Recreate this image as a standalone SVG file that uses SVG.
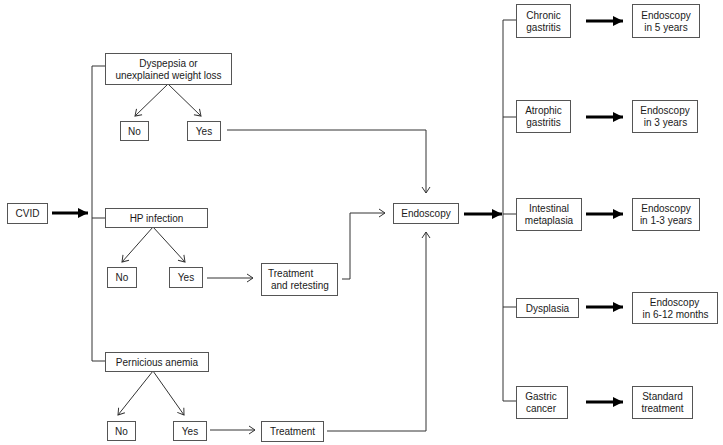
<svg xmlns="http://www.w3.org/2000/svg" width="723" height="445" viewBox="0 0 723 445">
<style>
.box{fill:#fff;stroke:#555;stroke-width:1}
text{font-family:"Liberation Sans",Arial,sans-serif;font-size:10px;fill:#1a1a1a;text-anchor:middle}
.ln{fill:none;stroke:#333;stroke-width:1}
.thin{fill:none;stroke:#333;stroke-width:1;marker-end:url(#open)}
.thick{fill:none;stroke:#000;stroke-width:3;marker-end:url(#solid)}
</style>
<defs>
<marker id="open" markerUnits="userSpaceOnUse" markerWidth="10" markerHeight="10" refX="7" refY="5" orient="auto">
<path d="M1,1 L7,5 L1,9" fill="none" stroke="#333" stroke-width="1"/>
</marker>
<marker id="solid" markerUnits="userSpaceOnUse" markerWidth="12" markerHeight="12" refX="10" refY="5" orient="auto">
<path d="M0,0 L10,5 L0,10 Z" fill="#000"/>
</marker>
</defs>
<rect width="723" height="445" fill="#fff"/>
<g id="connectors">
<path class="thick" d="M52,213 H88"/>
<path class="ln" d="M92,66 V361 M92,66 H105 M92,218 H105 M92,361 H105"/>
<path class="thin" d="M168,84 L135,116"/>
<path class="thin" d="M168,84 L201,116"/>
<path class="thin" d="M227,130 H426 V193"/>
<path class="thin" d="M153,227 L122,262"/>
<path class="thin" d="M153,227 L185,262"/>
<path class="thin" d="M207,278 H253"/>
<path class="thin" d="M342,279 H350 V213 H385"/>
<path class="thin" d="M153,371 L118,415"/>
<path class="thin" d="M153,371 L184,415"/>
<path class="thin" d="M210,430 H255"/>
<path class="thin" d="M327,431 H426 V232"/>
<path class="thick" d="M464,214 H502"/>
<path class="ln" d="M503,20 V401 M503,20 H516 M503,117 H516 M503,214 H516 M503,307 H516 M503,401 H516"/>
<path class="thick" d="M586,21 H623"/>
<path class="thick" d="M586,117 H623"/>
<path class="thick" d="M586,214 H623"/>
<path class="thick" d="M586,307 H623"/>
<path class="thick" d="M586,402 H623"/>
</g>
<g id="cvid"><rect class="box" x="7.5" y="203.5" width="40" height="20"/><text x="27.5" y="217">CVID</text></g>
<g id="dyspepsia"><rect class="box" x="105.5" y="53.5" width="126" height="31"/><text x="168.5" y="66.5">Dyspepsia or</text><text x="168.5" y="78.5">unexplained weight loss</text></g>
<g id="dys-no"><rect class="box" x="120.5" y="121.5" width="28" height="19"/><text x="134.5" y="134.5">No</text></g>
<g id="dys-yes"><rect class="box" x="187.5" y="121.5" width="33" height="19"/><text x="204" y="134.5">Yes</text></g>
<g id="hp"><rect class="box" x="105.5" y="208.5" width="102" height="19"/><text x="156.5" y="221.5">HP infection</text></g>
<g id="hp-no"><rect class="box" x="107.5" y="267.5" width="29" height="20"/><text x="122" y="281">No</text></g>
<g id="hp-yes"><rect class="box" x="169.5" y="267.5" width="33" height="20"/><text x="186" y="281">Yes</text></g>
<g id="treat-retest"><rect class="box" x="261.5" y="263.5" width="76" height="32"/><text x="268" y="277" style="text-anchor:start">Treatment</text><text x="271" y="289" style="text-anchor:start">and retesting</text></g>
<g id="pa"><rect class="box" x="105.5" y="352.5" width="103" height="19"/><text x="157" y="365.5">Pernicious anemia</text></g>
<g id="pa-no"><rect class="box" x="107.5" y="421.5" width="28" height="19"/><text x="121.5" y="434.5">No</text></g>
<g id="pa-yes"><rect class="box" x="173.5" y="421.5" width="33" height="19"/><text x="190" y="434.5">Yes</text></g>
<g id="treatment"><rect class="box" x="261.5" y="421.5" width="62" height="20"/><text x="292.5" y="435">Treatment</text></g>
<g id="endoscopy"><rect class="box" x="393.5" y="203.5" width="65" height="20"/><text x="426" y="217">Endoscopy</text></g>
<g id="chronic"><rect class="box" x="516.5" y="4.5" width="54" height="33"/><text x="543.5" y="18.5">Chronic</text><text x="543.5" y="30.5">gastritis</text></g>
<g id="endo5"><rect class="box" x="632.5" y="4.5" width="67" height="33"/><text x="666" y="18.5">Endoscopy</text><text x="666" y="30.5">in 5 years</text></g>
<g id="atrophic"><rect class="box" x="516.5" y="100.5" width="54" height="32"/><text x="543.5" y="114">Atrophic</text><text x="543.5" y="126">gastritis</text></g>
<g id="endo3"><rect class="box" x="632.5" y="100.5" width="65" height="32"/><text x="665" y="114">Endoscopy</text><text x="665.5" y="126">in 3 years</text></g>
<g id="intestinal"><rect class="box" x="516.5" y="198.5" width="65" height="32"/><text x="549" y="212">Intestinal</text><text x="549" y="224">metaplasia</text></g>
<g id="endo13"><rect class="box" x="632.5" y="198.5" width="67" height="32"/><text x="666" y="212">Endoscopy</text><text x="666" y="224">in 1-3 years</text></g>
<g id="dysplasia"><rect class="box" x="516.5" y="298.5" width="62" height="19"/><text x="547.5" y="311.5">Dysplasia</text></g>
<g id="endo612"><rect class="box" x="632.5" y="292.5" width="85" height="31"/><text x="674.5" y="305.5">Endoscopy</text><text x="675.5" y="317.5">in 6-12 months</text></g>
<g id="cancer"><rect class="box" x="516.5" y="386.5" width="51" height="32"/><text x="541" y="400">Gastric</text><text x="541" y="412">cancer</text></g>
<g id="standard"><rect class="box" x="632.5" y="386.5" width="60" height="32"/><text x="662.5" y="400">Standard</text><text x="662.5" y="412">treatment</text></g>
</svg>
